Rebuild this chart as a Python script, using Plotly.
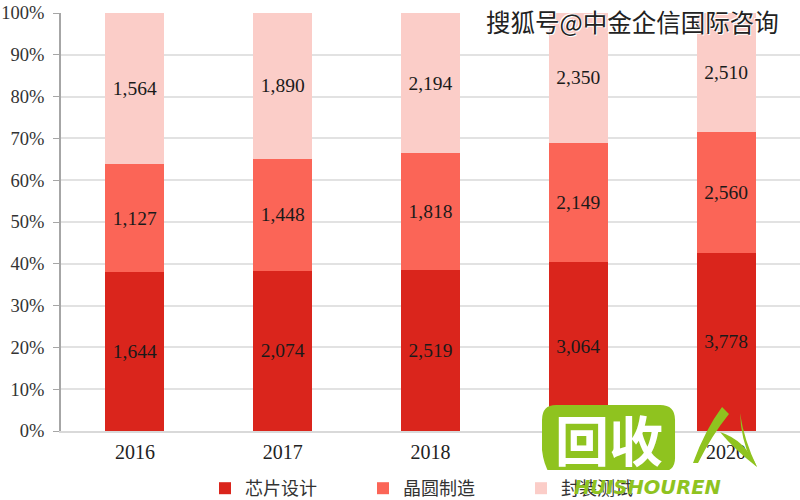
import plotly.graph_objects as go

years = ['2016', '2017', '2018', '2019', '2020']
design = [1644, 2074, 2519, 3064, 3778]
fab = [1127, 1448, 1818, 2149, 2560]
packaging = [1564, 1890, 2194, 2350, 2510]
series_names = ['芯片设计', '晶圆制造', '封装测试']
series_colors = ['#da251c', '#fb6557', '#fbcdc8']
watermark = '搜狐号@中金企信国际咨询'

SERIF = 'Liberation Serif'
CJK = 'Noto Sans CJK SC'
GREEN = '#8fc31f'

# where the plot area sits in the picture
LEFT, RIGHT, TOP, BOTTOM = 61, 800, 13, 431


def px(x):
    return (x - LEFT) / (RIGHT - LEFT)


def py(y):
    return (BOTTOM - y) / (BOTTOM - TOP)


def path(*steps):
    # steps are (command, x, y, ...) in picture pixels -> svg path in paper coordinates
    out = []
    for step in steps:
        cmd, vals = step[0], step[1:]
        coords = [f'{px(vals[i]):.4f},{py(vals[i + 1]):.4f}' for i in range(0, len(vals), 2)]
        out.append(cmd + ' '.join(coords))
    return ' '.join(out) + ' Z'


def label(text, x, y, font):
    return dict(text=text, x=px(x), y=py(y), xref='paper', yref='paper', showarrow=False,
                xanchor='center', yanchor='middle', font=font)


fig = go.Figure()
for name, values, color in zip(series_names, [design, fab, packaging], series_colors):
    fig.add_trace(go.Bar(
        x=years,
        y=values,
        name=name,
        marker=dict(color=color, line=dict(width=0)),
        text=[f'{v:,}' for v in values],
        textposition='inside',
        insidetextanchor='middle',
        textangle=0,
        constraintext='none',
        textfont=dict(family=SERIF, size=19.5, color='#1a1a1a'),
    ))

# logo bubble plus the little roof on its right, drawn over the chart like the watermark
logo_paths = [
    path(('M', 556, 405), ('L', 660, 405), ('Q', 675, 405, 675, 420), ('L', 675, 458),
         ('Q', 675, 472, 660, 472), ('L', 574, 472), ('Q', 567, 474, 568, 493),
         ('Q', 545, 478, 542, 450), ('L', 542, 420), ('Q', 542, 405, 556, 405)),
    path(('M', 693, 463), ('Q', 705, 430, 722, 407), ('L', 729, 414), ('Q', 712, 435, 698, 463)),
    path(('M', 720, 432), ('Q', 745, 440, 757, 467), ('Q', 735, 450, 720, 432)),
    path(('M', 740, 413), ('Q', 744, 440, 757, 467), ('L', 751, 460), ('Q', 741, 440, 740, 413)),
]
shapes = [dict(type='path', path=p, xref='paper', yref='paper', fillcolor=GREEN,
               line=dict(width=0), layer='above') for p in logo_paths]

annotations = [
    label(watermark, 632, 22, dict(family=CJK, size=24.5, color='#222222',
                                   shadow='1px 1px 0 #ffffff, -1px -1px 0 #ffffff')),
    label('<b>回收</b>', 609, 438, dict(family=CJK, size=54, color='#ffffff')),
    label('<b><i>HUISHOUREN</i></b>', 647, 488, dict(family='DejaVu Sans', size=19.5, color=GREEN)),
]

fig.update_layout(
    width=800,
    height=500,
    margin=dict(l=LEFT, r=800 - RIGHT, t=TOP, b=500 - BOTTOM),
    barmode='stack',
    barnorm='percent',
    bargap=0.6,
    paper_bgcolor='white',
    plot_bgcolor='white',
    showlegend=True,
    legend=dict(
        orientation='h',
        xref='container', yref='container',
        x=205 / 800, xanchor='left',
        y=1 - 470 / 500, yanchor='top',
        entrywidth=113,
        entrywidthmode='pixels',
        traceorder='normal',
        font=dict(family=CJK, size=18, color='#333333'),
    ),
    shapes=shapes,
    annotations=annotations,
    xaxis=dict(
        type='category',
        range=[-0.5, 4.5],
        showgrid=False,
        showline=True,
        linecolor='#d9d9d9',
        linewidth=2,
        ticks='',
        ticklabelstandoff=2,
        tickfont=dict(family=SERIF, size=20, color='#222222'),
    ),
    yaxis=dict(
        range=[0, 100],
        dtick=10,
        ticksuffix='%',
        showgrid=True,
        gridcolor='#e2e2e2',
        gridwidth=2,
        zeroline=False,
        showline=True,
        linecolor='#a6a6a6',
        linewidth=2,
        ticks='outside',
        ticklen=6,
        tickcolor='#a6a6a6',
        ticklabelstandoff=5,
        tickfont=dict(family=SERIF, size=18.5, color='#333333'),
    ),
)

# drop the default body margin so the figure fills the window
fig.write_html("out.html", config=dict(displayModeBar=False),
               post_script="document.body.style.margin = '0';")
